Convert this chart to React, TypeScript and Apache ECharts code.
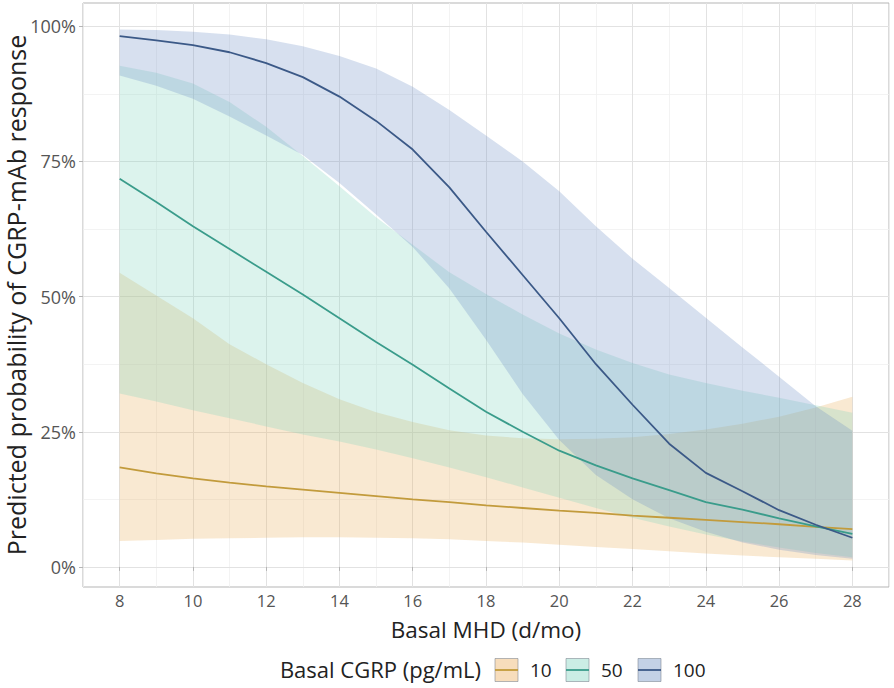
import React, { useEffect, useRef } from "react";
import * as echarts from "echarts";

// Basal MHD (days/month) at which predictions were computed
const mhd = [8, 9, 10, 11, 12, 13, 14, 15, 16, 17, 18, 19, 20, 21, 22, 23, 24, 25, 26, 27, 28];

// Basal CGRP = 10 pg/mL
const prob10 = [18.4, 17.3, 16.4, 15.6, 14.9, 14.3, 13.7, 13.1, 12.5, 12.0, 11.4, 10.9, 10.4, 10.0, 9.5, 9.1, 8.7, 8.3, 7.9, 7.4, 7.0];
const lower10 = [4.8, 5.0, 5.2, 5.3, 5.4, 5.5, 5.5, 5.4, 5.3, 5.1, 4.8, 4.5, 4.1, 3.7, 3.3, 2.9, 2.5, 2.1, 1.8, 1.5, 1.2];
const upper10 = [54.4, 50.2, 46.0, 41.2, 37.5, 34.0, 31.0, 28.6, 26.8, 25.3, 24.3, 23.8, 23.6, 23.7, 24.0, 24.6, 25.4, 26.5, 27.8, 29.5, 31.5];

// Basal CGRP = 50 pg/mL
const prob50 = [71.8, 67.5, 63.0, 58.8, 54.6, 50.4, 46.0, 41.6, 37.4, 33.0, 28.7, 25.0, 21.5, 18.8, 16.4, 14.2, 12.0, 10.6, 9.0, 7.5, 6.1];
const lower50 = [32.1, 30.6, 29.0, 27.5, 26.0, 24.5, 23.2, 21.7, 20.1, 18.4, 16.6, 14.7, 12.8, 10.9, 9.1, 7.5, 6.0, 4.7, 3.6, 2.6, 1.8];
const upper50 = [92.7, 91.4, 89.4, 86.0, 81.4, 76.0, 70.4, 64.7, 59.6, 54.5, 50.5, 46.7, 43.2, 40.2, 37.7, 35.6, 34.0, 32.6, 31.3, 29.9, 28.5];

// Basal CGRP = 100 pg/mL
const prob100 = [98.2, 97.4, 96.5, 95.2, 93.2, 90.6, 87.0, 82.5, 77.2, 70.2, 62.0, 54.0, 46.0, 37.5, 30.0, 22.8, 17.4, 14.0, 10.5, 7.8, 5.4];
const lower100 = [90.9, 89.0, 86.6, 83.3, 79.8, 76.2, 71.0, 65.2, 59.2, 51.5, 42.0, 32.0, 23.5, 17.0, 12.5, 9.0, 6.5, 4.5, 3.2, 2.2, 1.5];
const upper100 = [99.4, 99.3, 99.0, 98.5, 97.6, 96.3, 94.5, 92.2, 88.8, 84.5, 79.8, 75.0, 69.5, 63.0, 57.0, 51.6, 46.1, 40.6, 35.2, 29.7, 25.2];

const groupNames = ["10", "50", "100"];
const xTicks = [8, 10, 12, 14, 16, 18, 20, 22, 24, 26, 28];
const xMinor = [7, 9, 11, 13, 15, 17, 19, 21, 23, 25, 27, 29];
const yTicks = [0, 25, 50, 75, 100];
const yMinor = [12.5, 37.5, 62.5, 87.5];

const lineColors = ["#C29B3C", "#3A9C8B", "#3B5987"];
const fillColors = ["rgba(235,175,95,0.28)", "rgba(130,212,192,0.28)", "rgba(112,145,196,0.28)"];
const keyFills = ["rgba(235,175,95,0.42)", "rgba(130,212,192,0.42)", "rgba(112,145,196,0.42)"];

const FONT = "'Open Sans', Lato, sans-serif";

export default function App() {
  const ref = useRef<HTMLDivElement>(null);

  useEffect(() => {
    if (!ref.current) return;
    const chart = echarts.init(ref.current, undefined, { renderer: "svg" });

    const probs = [prob10, prob50, prob100];
    const lowers = [lower10, lower50, lower100];
    const uppers = [upper10, upper50, upper100];

    // ggplot-like 5% expansion of the data range
    const allLow = ([] as number[]).concat(...lowers);
    const allHigh = ([] as number[]).concat(...uppers);
    const dMin = Math.min(...allLow);
    const dMax = Math.max(...allHigh);
    const yPad = 0.05 * (dMax - dMin);
    const xPad = 0.05 * (mhd[mhd.length - 1] - mhd[0]);

    const majorGrid = { color: "#e2e2e2", width: 1, type: "solid" as const };
    const minorGrid = { color: "#f0f0f0", width: 0.8, type: "solid" as const };

    const gridSeries = {
      type: "line",
      name: "grid",
      data: mhd.map((x, i) => [x, prob10[i]]),
      lineStyle: { opacity: 0 },
      showSymbol: false,
      silent: true,
      z: 0,
      markLine: {
        silent: true,
        symbol: "none",
        z: 0,
        animation: false,
        label: { show: false },
        data: [
          ...yMinor.map((v) => ({ yAxis: v, lineStyle: minorGrid })),
          ...xMinor.map((v) => ({ xAxis: v, lineStyle: minorGrid })),
          ...yTicks.map((v) => ({ yAxis: v, lineStyle: majorGrid })),
          ...xTicks.map((v) => ({ xAxis: v, lineStyle: majorGrid })),
        ],
      },
    };

    const bandSeries = groupNames.map((name, g) => ({
      type: "custom",
      name: "band " + name,
      silent: true,
      z: 2,
      data: mhd.map((x, i) => [x, lowers[g][i], uppers[g][i]]),
      encode: { x: 0, y: [1, 2] },
      renderItem: (params: any, api: any) => {
        if (params.dataIndex !== 0) return { type: "group", children: [] };
        const top = mhd.map((x, i) => api.coord([x, uppers[g][i]]));
        const bot = mhd.map((x, i) => api.coord([x, lowers[g][i]])).reverse();
        return {
          type: "polygon",
          shape: { points: top.concat(bot) },
          style: { fill: fillColors[g], stroke: "none" },
        };
      },
    }));

    const lineSeries = groupNames.map((name, g) => ({
      type: "line",
      name,
      data: mhd.map((x, i) => [x, probs[g][i]]),
      showSymbol: false,
      silent: true,
      z: 3,
      lineStyle: { color: lineColors[g], width: 1.8 },
      itemStyle: { color: lineColors[g] },
    }));

    // legend drawn like ggplot's bottom legend
    const legendY = 670;
    const keyXs = [495, 566, 638];
    const legendGraphics: any[] = [
      {
        type: "text",
        x: 481,
        y: legendY - 1,
        style: {
          text: "Basal CGRP (pg/mL)",
          font: `22px ${FONT}`,
          fill: "#222",
          align: "right",
          verticalAlign: "middle",
        },
      },
    ];
    groupNames.forEach((name, g) => {
      legendGraphics.push({
        type: "rect",
        shape: { x: keyXs[g], y: legendY - 11.5, width: 23, height: 23 },
        style: { fill: keyFills[g], stroke: "rgba(120,130,140,0.55)", lineWidth: 1 },
      });
      legendGraphics.push({
        type: "line",
        shape: { x1: keyXs[g], y1: legendY, x2: keyXs[g] + 23, y2: legendY },
        style: { stroke: lineColors[g], lineWidth: 1.8 },
      });
      legendGraphics.push({
        type: "text",
        x: keyXs[g] + 35,
        y: legendY,
        style: { text: name, font: `19px ${FONT}`, fill: "#222", verticalAlign: "middle" },
      });
    });

    chart.setOption({
      animation: false,
      backgroundColor: "#ffffff",
      grid: {
        left: 83,
        right: 5,
        top: 3,
        bottom: 101,
        outerBoundsMode: "none",
        containLabel: false,
        show: true,
        borderColor: "#b5b5b5",
        borderWidth: 1,
        backgroundColor: "transparent",
      },
      xAxis: {
        type: "value",
        min: mhd[0] - xPad,
        max: mhd[mhd.length - 1] + xPad,
        name: "Basal MHD (d/mo)",
        nameLocation: "middle",
        nameMoveOverlap: false,
        nameGap: 31,
        nameTextStyle: { fontFamily: FONT, fontSize: 22.5, color: "#222" },
        axisLine: { show: false },
        splitLine: { show: false },
        axisTick: { show: true, customValues: xTicks, length: 4, lineStyle: { color: "#b5b5b5" } },
        axisLabel: { customValues: xTicks, fontFamily: FONT, fontSize: 16.5, color: "#555", margin: 5 },
      },
      yAxis: {
        type: "value",
        min: dMin - yPad,
        max: dMax + yPad,
        name: "Predicted probability of CGRP-mAb response",
        nameLocation: "middle",
        nameRotate: 90,
        nameMoveOverlap: false,
        nameGap: 55,
        nameTextStyle: { fontFamily: FONT, fontSize: 25, color: "#222" },
        axisLine: { show: false },
        splitLine: { show: false },
        axisTick: { show: true, customValues: yTicks, length: 4, lineStyle: { color: "#b5b5b5" } },
        axisLabel: {
          customValues: yTicks,
          formatter: (v: number) => `${v}%`,
          fontFamily: FONT,
          fontSize: 18,
          color: "#555",
          margin: 7,
        },
      },
      series: [gridSeries, ...bandSeries, ...lineSeries],
      graphic: legendGraphics,
    });

    return () => chart.dispose();
  }, []);

  return (
    <div
      ref={ref}
      style={{ position: "fixed", left: 0, top: 0, width: 894, height: 688, background: "#fff" }}
    />
  );
}
